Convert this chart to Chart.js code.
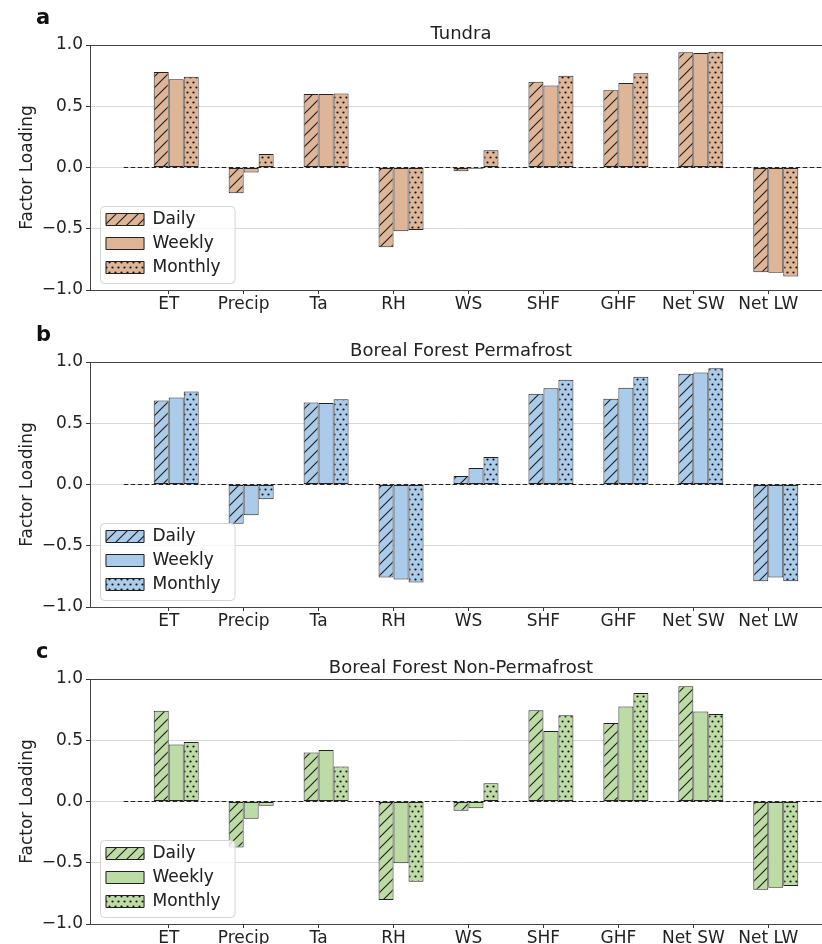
<!DOCTYPE html>
<html lang="en">
<head>
  <meta charset="UTF-8">
  <title>Factor Loading</title>
  <script src="https://cdn.jsdelivr.net/npm/chart.js"></script>
  <style>
    html, body {
      margin: 0;
      padding: 0;
      background: #fff;
      width: 822px;
      height: 944px;
      overflow: hidden;
    }
    .panel {
      position: relative;
      width: 840px;
      height: 317px;
    }
    .panel canvas {
      position: absolute;
      left: 0;
      top: 0;
    }
    .letter {
      position: absolute;
      left: 36px;
      top: 7px;
      font: bold 21px/21px "DejaVu Sans", sans-serif;
      color: #111;
      z-index: 2;
    }
  </style>
</head>
<body>

  <div class="panel"><div class="letter">a</div><canvas id="chartA" width="840" height="317"></canvas></div>
  <div class="panel"><div class="letter">b</div><canvas id="chartB" width="840" height="317"></canvas></div>
  <div class="panel"><div class="letter">c</div><canvas id="chartC" width="840" height="317"></canvas></div>

  <script>
    const categories = ["ET", "Precip", "Ta", "RH", "WS", "SHF", "GHF", "Net SW", "Net LW"];
    const seriesNames = ["Daily", "Weekly", "Monthly"];
    const yTicks = [-1.0, -0.5, 0.0, 0.5, 1.0];

    // Tundra
    const tundraDaily   = [0.78, -0.21, 0.60, -0.65, -0.03, 0.70, 0.63, 0.94, -0.855];
    const tundraWeekly  = [0.72, -0.04, 0.60, -0.52, -0.01, 0.67, 0.69, 0.935, -0.86];
    const tundraMonthly = [0.74, 0.11, 0.605, -0.51, 0.14, 0.75, 0.77, 0.945, -0.89];

    // Boreal forest, permafrost
    const permDaily   = [0.685, -0.32, 0.67, -0.76, 0.07, 0.74, 0.70, 0.905, -0.79];
    const permWeekly  = [0.71, -0.25, 0.665, -0.775, 0.135, 0.785, 0.79, 0.915, -0.76];
    const permMonthly = [0.76, -0.12, 0.695, -0.80, 0.225, 0.855, 0.88, 0.95, -0.79];

    // Boreal forest, non-permafrost
    const nonPermDaily   = [0.74, -0.375, 0.40, -0.805, -0.075, 0.745, 0.64, 0.94, -0.72];
    const nonPermWeekly  = [0.465, -0.14, 0.42, -0.505, -0.055, 0.575, 0.775, 0.735, -0.705];
    const nonPermMonthly = [0.485, -0.035, 0.285, -0.655, 0.15, 0.705, 0.885, 0.715, -0.69];

    const xMin = -1.05, xMax = 8.85;   // axis limits in category units
    const barShift = 0.1;              // bar groups sit a little right of the tick
    const zeroLineFrom = -0.6;

    Chart.defaults.font.family = "'DejaVu Sans', sans-serif";
    Chart.defaults.color = "#222";

    function hatchPattern(color) {
      const s = 11;
      const c = document.createElement("canvas");
      c.width = s; c.height = s;
      const g = c.getContext("2d");
      g.fillStyle = color;
      g.fillRect(0, 0, s, s);
      g.strokeStyle = "#222";
      g.lineWidth = 1.2;
      g.beginPath();
      for (const o of [-s, 0, s]) {
        g.moveTo(o - 1, s + 1);
        g.lineTo(o + s + 1, -1);
      }
      g.stroke();
      return g.createPattern(c, "repeat");
    }

    function dotPattern(color) {
      const c = document.createElement("canvas");
      c.width = 6; c.height = 10;
      const g = c.getContext("2d");
      g.fillStyle = color;
      g.fillRect(0, 0, 6, 10);
      g.fillStyle = "#111";
      [[1.5, 2.5], [4.5, 7.5]].forEach(([x, y]) => {
        g.beginPath();
        g.arc(x, y, 1.1, 0, Math.PI * 2);
        g.fill();
      });
      return g.createPattern(c, "repeat");
    }

    // dashed zero line, top spine and the framed legend
    const extras = {
      id: "extras",
      afterLayout(chart) {
        const lg = chart.legend, area = chart.chartArea;
        lg.left = area.left + 9;
        lg.bottom = area.bottom - 7;
      },
      beforeDatasetsDraw(chart) {
        const { ctx, chartArea, scales } = chart;
        const y0 = scales.y.getPixelForValue(0);
        ctx.save();
        ctx.beginPath();
        ctx.rect(chartArea.left, chartArea.top, chartArea.width, chartArea.height);
        ctx.clip();
        ctx.setLineDash([4.5, 2.5]);
        ctx.strokeStyle = "#222";
        ctx.lineWidth = 1.2;
        ctx.beginPath();
        ctx.moveTo(scales.x.getPixelForValue(zeroLineFrom), y0);
        ctx.lineTo(chartArea.right, y0);
        ctx.stroke();
        ctx.restore();
      },
      afterDatasetsDraw(chart) {
        const { ctx, chartArea } = chart;
        ctx.save();
        ctx.strokeStyle = "#444";
        ctx.lineWidth = 1;
        ctx.beginPath();
        ctx.moveTo(chartArea.left, chartArea.top + 0.5);
        ctx.lineTo(chartArea.right, chartArea.top + 0.5);
        ctx.stroke();

        const boxes = chart.legend.legendHitBoxes;
        const l = Math.min(...boxes.map(b => b.left)) - 6;
        const t = Math.min(...boxes.map(b => b.top)) - 5;
        const r = Math.max(...boxes.map(b => b.left + b.width)) + 14;
        const b = Math.max(...boxes.map(b => b.top + b.height)) + 7;
        ctx.beginPath();
        ctx.roundRect(l + 0.5, t + 0.5, r - l, b - t, 4);
        ctx.fillStyle = "rgba(255,255,255,0.8)";
        ctx.fill();
        ctx.strokeStyle = "#d4d4d4";
        ctx.stroke();
        ctx.restore();
        chart.legend.draw();
      }
    };

    function makePanel(id, title, color, daily, weekly, monthly) {
      const fills = [hatchPattern(color), color, dotPattern(color)];
      const rows = [daily, weekly, monthly];

      new Chart(document.getElementById(id), {
        type: "bar",
        data: {
          datasets: seriesNames.map((name, k) => ({
            label: name,
            data: rows[k].map((v, i) => ({ x: i + barShift, y: v })),
            backgroundColor: fills[k],
            borderColor: "#222",
            borderWidth: 1,
            borderSkipped: false,
            categoryPercentage: 0.6,
            barPercentage: 1.0
          }))
        },
        options: {
          responsive: false,
          animation: false,
          devicePixelRatio: 1,
          layout: { padding: { left: 0, right: 8, top: 0, bottom: 0 } },
          plugins: {
            title: {
              display: true,
              text: title,
              fullSize: false,
              color: "#222",
              font: { size: 18, weight: "normal", lineHeight: 1.1667 },
              padding: { top: 24, bottom: 0 }
            },
            legend: {
              position: "chartArea",
              align: "end",
              labels: {
                boxWidth: 38,
                boxHeight: 12,
                padding: 7,
                color: "#222",
                font: { size: 17 }
              }
            },
            tooltip: { enabled: false }
          },
          scales: {
            x: {
              type: "linear",
              offset: false,
              min: xMin,
              max: xMax,
              afterFit(s) { s.height = 27; },
              afterBuildTicks(s) { s.ticks = categories.map((c, i) => ({ value: i })); },
              ticks: {
                callback: v => categories[v],
                autoSkip: false,
                maxRotation: 0,
                minRotation: 0,
                padding: 0,
                font: { size: 17 },
                color: "#222"
              },
              grid: { offset: false, drawOnChartArea: false, tickLength: 4, tickColor: "#333" },
              border: { color: "#444" }
            },
            y: {
              min: yTicks[0],
              max: yTicks[yTicks.length - 1],
              afterFit(s) { s.width = 90; },
              afterBuildTicks(s) { s.ticks = yTicks.map(v => ({ value: v })); },
              ticks: {
                callback: v => v.toFixed(1).replace("-", "\u2212"),
                padding: 3,
                font: { size: 17 },
                color: "#222"
              },
              grid: { color: "#d8d8d8", tickColor: "#333", tickLength: 4 },
              border: { color: "#444" },
              title: {
                display: true,
                text: "Factor Loading",
                color: "#222",
                font: { size: 17 },
                padding: { top: 17, bottom: 0 }
              }
            }
          }
        },
        plugins: [extras]
      });
    }

    makePanel("chartA", "Tundra", "#dfb598", tundraDaily, tundraWeekly, tundraMonthly);
    makePanel("chartB", "Boreal Forest Permafrost", "#aacbea", permDaily, permWeekly, permMonthly);
    makePanel("chartC", "Boreal Forest Non-Permafrost", "#bddba4", nonPermDaily, nonPermWeekly, nonPermMonthly);
  </script>

</body>
</html>
